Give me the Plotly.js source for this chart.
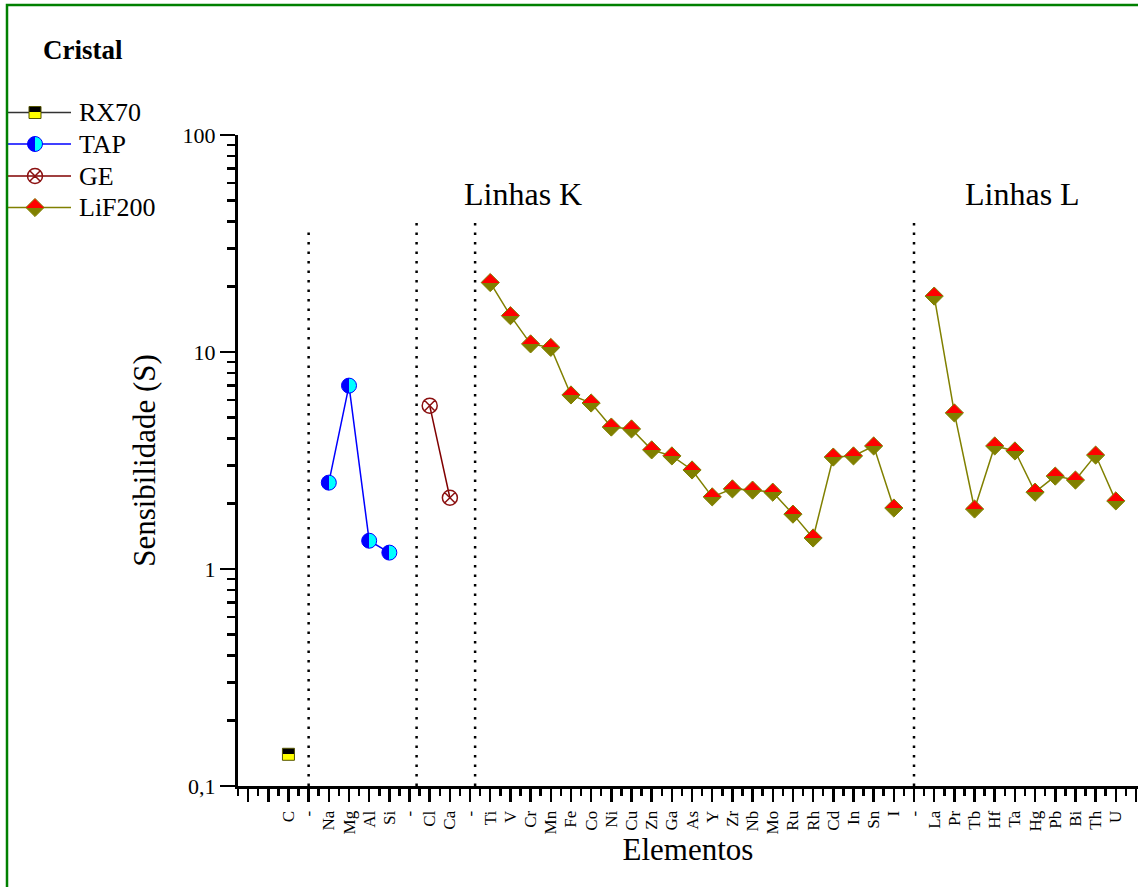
<!DOCTYPE html>
<html>
<head>
<meta charset="utf-8">
<script src="https://cdn.plot.ly/plotly-3.0.1.min.js"></script>
<style>html,body{margin:0;padding:0;background:#fff}</style>
</head>
<body>
<div id="chart" style="width:1138px;height:887px"></div>
<script>
// Element positions along the x axis ('-' marks the group separators)
const tickLabels = ['C','-','Na','Mg','Al','Si','-','Cl','Ca','-','Ti','V','Cr','Mn','Fe','Co','Ni','Cu','Zn','Ga','As','Y','Zr','Nb','Mo','Ru','Rh','Cd','In','Sn','I','-','La','Pr','Tb','Hf','Ta','Hg','Pb','Bi','Th','U'];

// Sensitivity per crystal
const rx70Elements = ['C'];
const rx70Values = [0.14];
const tapElements = ['Na','Mg','Al','Si'];
const tapValues = [2.50, 7.0, 1.35, 1.19];
const geElements = ['Cl','Ca'];
const geValues = [5.66, 2.13];
const lifKElements = ['Ti','V','Cr','Mn','Fe','Co','Ni','Cu','Zn','Ga','As','Y','Zr','Nb','Mo','Ru','Rh','Cd','In','Sn','I'];
const lifKValues = [20.9, 14.7, 10.9, 10.5, 6.34, 5.82, 4.51, 4.42, 3.54, 3.32, 2.86, 2.15, 2.34, 2.31, 2.26, 1.79, 1.39, 3.28, 3.32, 3.69, 1.91];
const lifLElements = ['La','Pr','Tb','Hf','Ta','Hg','Pb','Bi','Th','U'];
const lifLValues = [18.1, 5.24, 1.89, 3.69, 3.50, 2.26, 2.68, 2.57, 3.35, 2.06];

const yTickValues = [0.1, 1, 10, 100];
const yTickLabels = ['0,1', '1', '10', '100'];

const seriesNames = ['RX70', 'TAP', 'GE', 'LiF200'];
const groupTitles = ['Linhas K', 'Linhas L'];

// ---- layout constants ----
const W = 1138, H = 887;
const plotLeft = 238, plotRight = 1138, plotTop = 135, plotBottom = 786;
const FONT = '"Liberation Serif", "Times New Roman", serif';
const dividerX = [1, 6.35, 9.25, 31];
const dividerTop = [36.5, 40, 40, 40];
const groupTitleX = [11.62, 36.36];
const groupTitleYLog = 1.73;
const legendRowY = [112.5, 144, 176, 207.5];
const legendLineX = [7, 71];
const legendMarkX = 35;
const legendTextX = 77;

const idx = name => tickLabels.indexOf(name);

// marker styles: two-tone markers use a gradient that is split in half afterwards
const styles = {
  RX70: {line: {color: '#333333', width: 1.5},
         marker: {symbol: 'square', size: 12, color: '#000000',
                  gradient: {type: 'vertical', color: '#ffff00'},
                  line: {color: '#555500', width: 1}}},
  TAP: {line: {color: '#0000ff', width: 1.5},
        marker: {symbol: 'circle', size: 15, color: '#0000ff',
                 gradient: {type: 'horizontal', color: '#00ffff'},
                 line: {color: '#0000ff', width: 1}}},
  GE: {line: {color: '#800000', width: 1.5},
       marker: {symbol: 'circle-x-open', size: 15, color: '#8b1010',
                line: {color: '#8b1010', width: 1.5}}},
  LiF200: {line: {color: '#808000', width: 1.5},
           marker: {symbol: 'diamond', size: 14, color: '#ff0000',
                    gradient: {type: 'vertical', color: '#808000'},
                    line: {color: '#808000', width: 1}}}
};

const traces = [];
traces.push({
  x: rx70Elements.map(idx), y: rx70Values, mode: 'markers', name: 'RX70',
  marker: styles.RX70.marker, cliponaxis: false
});
traces.push({
  x: tapElements.map(idx), y: tapValues, mode: 'lines+markers', name: 'TAP',
  line: styles.TAP.line, marker: styles.TAP.marker
});
traces.push({
  x: geElements.map(idx), y: geValues, mode: 'lines+markers', name: 'GE',
  line: styles.GE.line, marker: styles.GE.marker
});
traces.push({
  x: lifKElements.map(idx).concat([null], lifLElements.map(idx)),
  y: lifKValues.concat([null], lifLValues),
  mode: 'lines+markers', name: 'LiF200', connectgaps: false,
  line: styles.LiF200.line, marker: styles.LiF200.marker
});

// legend keys, drawn on a helper pixel-scaled subplot at the top left
seriesNames.forEach((name, i) => {
  const s = styles[name];
  traces.push({x: legendLineX, y: [legendRowY[i], legendRowY[i]], mode: 'lines',
    xaxis: 'x2', yaxis: 'y2', line: s.line, hoverinfo: 'skip'});
  traces.push({x: [legendMarkX], y: [legendRowY[i]], mode: 'markers',
    xaxis: 'x2', yaxis: 'y2', marker: s.marker, hoverinfo: 'skip'});
});

// tick positions
const xTickVals = [], xTickText = [];
for (let v = -2; v <= 42; v++) {
  xTickVals.push(v);
  xTickText.push(v >= 0 && v < tickLabels.length ? tickLabels[v] : '');
}
const xMinorVals = [];
for (let v = -2.5; v <= 42.5; v += 1) xMinorVals.push(v);
const yMinorVals = [];
for (let e = -1; e < 2; e++) for (let d = 2; d <= 9; d++) yMinorVals.push(d * Math.pow(10, e));

const shapes = dividerX.map((xv, i) => ({
  type: 'line', xref: 'x', yref: 'y', x0: xv, x1: xv, y0: 0.1, y1: dividerTop[i],
  line: {color: '#000', width: 2.5, dash: '2.5px,7px'}, layer: 'below'
}));
// figure frame
shapes.push({type: 'rect', xref: 'paper', yref: 'paper',
  x0: 7 / W, x1: 1.02, y0: -0.02, y1: (H - 5) / H,
  line: {color: '#008000', width: 2.5}, fillcolor: 'rgba(0,0,0,0)'});

const annotations = groupTitles.map((t, i) => ({
  text: t, xref: 'x', yref: 'y', x: groupTitleX[i], y: groupTitleYLog,
  xanchor: 'center', yanchor: 'middle', showarrow: false,
  font: {family: FONT, size: 32, color: '#000'}
}));
annotations.push({text: '<b>Cristal</b>', xref: 'paper', yref: 'paper',
  x: 41 / W, y: (H - 50) / H, xanchor: 'left', yanchor: 'middle', showarrow: false,
  font: {family: FONT, size: 27, color: '#000'}});
seriesNames.forEach((name, i) => annotations.push({
  text: name, xref: 'x2', yref: 'y2', x: legendTextX, y: legendRowY[i],
  xanchor: 'left', yanchor: 'middle', showarrow: false,
  font: {family: FONT, size: 26, color: '#000'}
}));

const layout = {
  width: W, height: H,
  margin: {l: 0, r: 0, t: 0, b: 0},
  paper_bgcolor: '#fff', plot_bgcolor: 'rgba(0,0,0,0)',
  showlegend: false,
  font: {family: FONT, color: '#000'},
  xaxis: {
    domain: [plotLeft / W, plotRight / W], anchor: 'y',
    range: [-2.5, 42.1], showgrid: false, zeroline: false,
    showline: true, linecolor: '#000', linewidth: 3,
    tickmode: 'array', tickvals: xTickVals, ticktext: xTickText,
    ticks: 'outside', ticklen: 13, tickwidth: 2.5, tickcolor: '#000',
    tickangle: -90, ticklabelstandoff: 2,
    tickfont: {family: FONT, size: 17, color: '#000'},
    minor: {tickmode: 'array', tickvals: xMinorVals, ticks: 'outside', ticklen: 7, tickwidth: 2.5, tickcolor: '#000'},
    title: {text: 'Elementos', font: {family: FONT, size: 31, color: '#000'}, standoff: 3}
  },
  yaxis: {
    domain: [(H - plotBottom) / H, (H - plotTop) / H], anchor: 'x',
    type: 'log', range: [-1, 2], showgrid: false, zeroline: false,
    showline: true, linecolor: '#000', linewidth: 3,
    tickmode: 'array', tickvals: yTickValues, ticktext: yTickLabels,
    ticks: 'outside', ticklen: 15, tickwidth: 2.5, tickcolor: '#000',
    tickfont: {family: FONT, size: 22, color: '#000'},
    minor: {tickmode: 'array', tickvals: yMinorVals, ticks: 'outside', ticklen: 8, tickwidth: 2.5, tickcolor: '#000'},
    title: {text: 'Sensibilidade (S)', font: {family: FONT, size: 31, color: '#000'}, standoff: 18}
  },
  xaxis2: {domain: [0, 230 / W], range: [0, 230], anchor: 'y2', visible: false, fixedrange: true},
  yaxis2: {domain: [(H - 240) / H, (H - 90) / H], range: [240, 90], anchor: 'x2', visible: false, fixedrange: true},
  shapes: shapes,
  annotations: annotations
};

Plotly.newPlot('chart', traces, layout, {staticPlot: true, displayModeBar: false}).then(gd => {
  // turn each two-colour marker gradient into a hard half/half split
  gd.querySelectorAll('linearGradient stop').forEach(s => s.setAttribute('offset', '50%'));
});
</script>
</body>
</html>
